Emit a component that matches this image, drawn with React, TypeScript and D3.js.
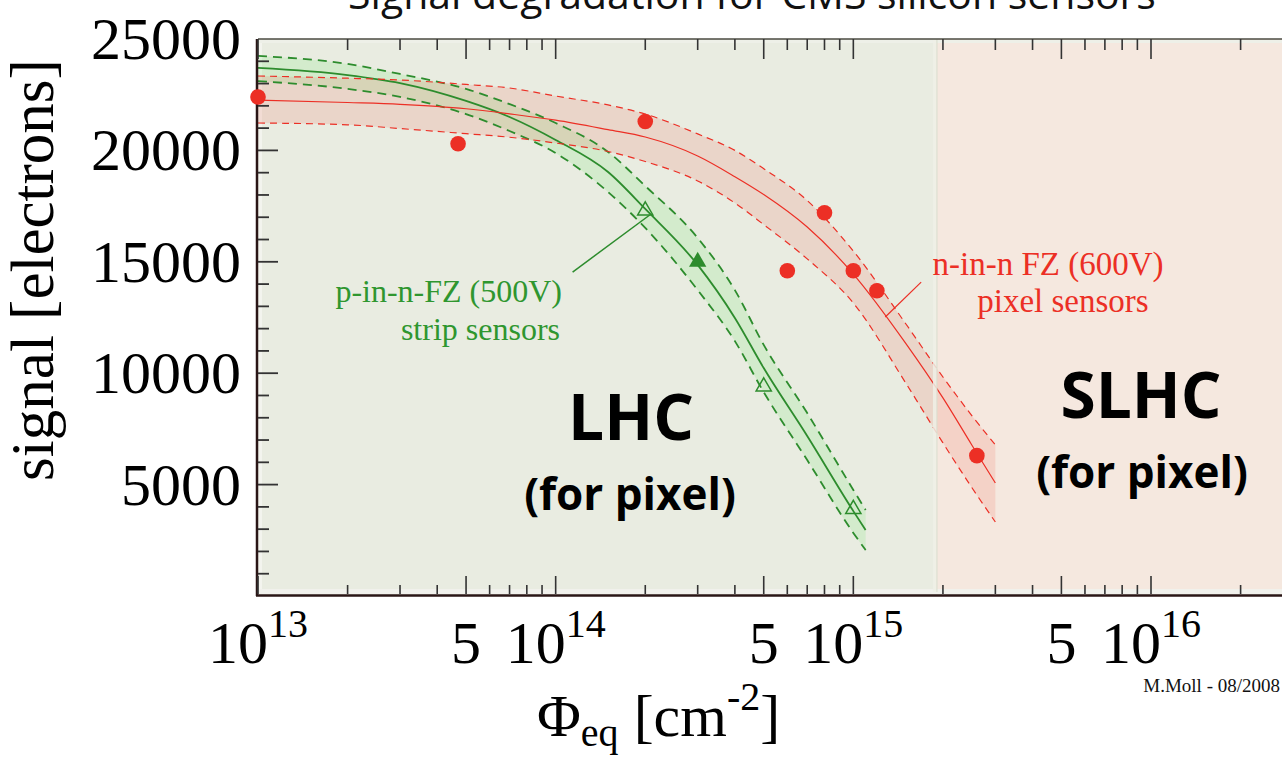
import React from "react";
import * as d3 from "d3";

// fluence in cm^-2, signal in electrons
const RED_FLUENCE = [1e13, 2e13, 3e13, 5e13, 7e13, 1e14, 1.5e14, 2e14, 3e14, 4e14, 5e14, 7e14, 1e15, 1.5e15, 2e15, 2.5e15, 3e15];
const RED_MID = [22260, 22150, 22070, 21870, 21640, 21360, 20930, 20600, 19750, 18820, 18020, 16560, 14450, 11340, 8890, 6780, 5070];
const RED_HIGH = [23340, 23240, 23160, 22960, 22800, 22440, 22040, 21630, 20740, 20000, 19180, 17750, 15480, 12220, 9830, 8100, 6780];
const RED_LOW = [21230, 21150, 20980, 20750, 20590, 20330, 19950, 19500, 18630, 17640, 16670, 15130, 13150, 9560, 6870, 4870, 3320];

const GREEN_FLUENCE = [1e13, 2e13, 3e13, 5e13, 7e13, 1e14, 1.5e14, 2e14, 3e14, 4e14, 5e14, 7e14, 1e15, 1.1e15];
const GREEN_MID = [23700, 23380, 23020, 22220, 21500, 20470, 19030, 17370, 14860, 12480, 10230, 7180, 3810, 2960];
const GREEN_HIGH = [24240, 23880, 23430, 22760, 22080, 21230, 19930, 18400, 16070, 13730, 11270, 8210, 4760, 3860];
const GREEN_LOW = [23110, 22760, 22400, 21630, 20870, 19880, 18130, 16520, 13730, 11440, 9150, 6100, 2830, 2060];

// n-in-n FZ pixel sensors (measured)
const PIXEL_FLUENCE = [1e13, 4.7e13, 2e14, 6e14, 8e14, 1e15, 1.2e15, 2.6e15];
const PIXEL_SIGNAL = [22400, 20300, 21300, 14600, 17200, 14600, 13700, 6300];

// p-in-n FZ strip sensors (measured)
const STRIP_FLUENCE = [2e14, 5e14, 1e15];
const STRIP_SIGNAL = [17300, 9400, 3900];
const STRIP_FILLED_FLUENCE = [3e14];
const STRIP_FILLED_SIGNAL = [15000];

const Y_LABELS = [5000, 10000, 15000, 20000, 25000];
const SLHC_START = 1.88e15;

const W = 1282;
const H = 759;
const RED = "#ec2f25";
const GREEN = "#2d8c2d";
const SERIF = "'Liberation Serif', 'Times New Roman', serif";
const SANS = "'Open Sans', Lato, sans-serif";

export default function App() {
  const x = d3.scaleLog().domain([1e13, 1e16]).range([258, 1151]);
  const y = d3.scaleLinear().domain([0, 25000]).range([596, 39]);

  const left = x(1e13);
  const top = y(25000);
  const bottom = y(0);
  const split = x(SLHC_START);

  const band = (fl, lo, hi) =>
    d3
      .area<number>()
      .x((_, i) => x(fl[i]))
      .y0((_, i) => y(lo[i]))
      .y1((_, i) => y(hi[i]))
      .curve(d3.curveMonotoneX)(fl);

  const curve = (fl, vals) =>
    d3
      .line<number>()
      .x((_, i) => x(fl[i]))
      .y((_, i) => y(vals[i]))
      .curve(d3.curveMonotoneX)(fl);

  const xTicks = d3
    .scaleLog()
    .domain([1e13, 3e16])
    .ticks()
    .filter(t => x(t) <= W);
  const mant = t => Math.round(t / Math.pow(10, Math.floor(Math.log10(t) + 1e-9)));

  const triangle = d3.symbol().type(d3.symbolTriangle);

  return (
    <div style={{ position: "absolute", left: 0, top: 0 }}>
      <svg width={W} height={H} style={{ display: "block", background: "#fff" }}>
        {/* title, cut at the top like the original slide */}
        <text x={752} y={9} textAnchor="middle" fontFamily={SANS} fontSize={41} fill="#111">
          Signal degradation for CMS silicon sensors
        </text>

        {/* LHC / SLHC regions */}
        <rect x={left} y={top} width={split - left} height={bottom - top} fill="#e9ece1" />
        <rect x={split} y={top} width={W - split} height={bottom - top} fill="#f5e8df" />
        <rect x={left} y={top} width={4} height={bottom - top} fill="#f3f4ee" />
        <rect x={left} y={top + 1} width={W - left} height={3} fill="#eef0e8" />
        <rect x={left} y={bottom - 7} width={W - left} height={6} fill="#f1f1ec" />

        {/* bands */}
        <path d={band(GREEN_FLUENCE, GREEN_LOW, GREEN_HIGH)} fill="rgba(60,230,60,0.12)" />
        <path d={band(RED_FLUENCE, RED_LOW, RED_HIGH)} fill="rgba(240,80,60,0.14)" />

        <path d={curve(GREEN_FLUENCE, GREEN_HIGH)} fill="none" stroke={GREEN} strokeWidth={1.8} strokeDasharray="9,6" />
        <path d={curve(GREEN_FLUENCE, GREEN_LOW)} fill="none" stroke={GREEN} strokeWidth={1.8} strokeDasharray="9,6" />
        <path d={curve(GREEN_FLUENCE, GREEN_MID)} fill="none" stroke={GREEN} strokeWidth={1.8} />

        <path d={curve(RED_FLUENCE, RED_HIGH)} fill="none" stroke={RED} strokeWidth={1.2} strokeDasharray="7,5" />
        <path d={curve(RED_FLUENCE, RED_LOW)} fill="none" stroke={RED} strokeWidth={1.2} strokeDasharray="7,5" />
        <path d={curve(RED_FLUENCE, RED_MID)} fill="none" stroke={RED} strokeWidth={1.2} />

        {/* region boundary */}
        <rect x={split - 2} y={top} width={4} height={bottom - top - 4} fill="#eef0e6" opacity={0.85} />
        <line x1={split + 2} x2={split + 2} y1={top} y2={bottom - 4} stroke="#d9ddce" strokeWidth={1} />

        {/* axes frame */}
        <line x1={left} x2={W} y1={top} y2={top} stroke="#4b4b42" strokeWidth={1.5} />
        <line x1={left - 1} x2={left - 1} y1={top} y2={bottom} stroke="#2a1616" strokeWidth={2.5} />
        <line x1={left - 2} x2={W} y1={bottom - 0.5} y2={bottom - 0.5} stroke="#2a1616" strokeWidth={2.5} />

        {/* x ticks, bottom and top */}
        {xTicks.map(t => {
          const m = mant(t);
          const len = m === 1 || m === 5 ? 18 : 9;
          return (
            <g key={t} stroke="#333" strokeWidth={1.6}>
              <line x1={x(t)} x2={x(t)} y1={bottom - 2} y2={bottom - 2 - len} />
              <line x1={x(t)} x2={x(t)} y1={top} y2={top + len + 2} />
            </g>
          );
        })}

        {/* y ticks */}
        {d3.range(1000, 25000, 1000).map(v => (
          <line
            key={v}
            x1={left}
            x2={left + (v % 5000 === 0 ? 20 : 11)}
            y1={y(v)}
            y2={y(v)}
            stroke="#333"
            strokeWidth={1.8}
          />
        ))}

        {/* x tick labels */}
        {xTicks
          .filter(t => mant(t) === 1 || mant(t) === 5)
          .map(t => {
            const e = Math.round(Math.log10(t));
            return mant(t) === 5 ? (
              <text key={t} x={x(t)} y={663} textAnchor="middle" fontFamily={SERIF} fontSize={60} fill="#000">
                5
              </text>
            ) : (
              <text key={t} x={x(t)} y={663} textAnchor="middle" fontFamily={SERIF} fontSize={60} fill="#000">
                10
                <tspan fontSize={40} dy={-26}>
                  {e}
                </tspan>
              </text>
            );
          })}

        {/* y tick labels */}
        {Y_LABELS.map(v => (
          <text key={v} x={241} y={y(v) + 20} textAnchor="end" fontFamily={SERIF} fontSize={60} fill="#000">
            {v}
          </text>
        ))}

        {/* axis titles */}
        <text x={537} y={736} fontFamily={SERIF} fontSize={60} fill="#000">
          Φ
          <tspan fontSize={40} dy={10}>eq</tspan>
          <tspan dy={-10}> [cm</tspan>
          <tspan fontSize={40} dy={-26}>-2</tspan>
          <tspan dy={26}>]</tspan>
        </text>
        <text
          transform={`translate(53, 270) rotate(-90)`}
          textAnchor="middle"
          fontFamily={SERIF}
          fontSize={61}
          fill="#000"
        >
          signal [electrons]
        </text>
        <text x={1280} y={692} textAnchor="end" fontFamily={SERIF} fontSize={19} fill="#111">
          M.Moll - 08/2008
        </text>

        {/* data points */}
        {PIXEL_FLUENCE.map((f, i) => (
          <circle key={f} cx={x(f)} cy={y(PIXEL_SIGNAL[i])} r={7.8} fill={RED} />
        ))}
        {STRIP_FLUENCE.map((f, i) => (
          <path
            key={f}
            d={triangle.size(100)()}
            transform={`translate(${x(f)},${y(STRIP_SIGNAL[i])})`}
            fill="none"
            stroke={GREEN}
            strokeWidth={1.5}
          />
        ))}
        {STRIP_FILLED_FLUENCE.map((f, i) => (
          <path
            key={f}
            d={triangle.size(130)()}
            transform={`translate(${x(f)},${y(STRIP_FILLED_SIGNAL[i])})`}
            fill={GREEN}
          />
        ))}

        {/* annotations */}
        <line x1={x(1.14e14)} y1={y(14540)} x2={x(2.07e14)} y2={y(17100)} stroke={GREEN} strokeWidth={1.5} />
        <text x={562} y={302} textAnchor="end" fontFamily={SERIF} fontSize={32} fill="#2f962f">
          p-in-n-FZ (500V)
        </text>
        <text x={560} y={340} textAnchor="end" fontFamily={SERIF} fontSize={32} fill="#2f962f">
          strip sensors
        </text>

        <line x1={x(1.69e15)} y1={y(14090)} x2={x(1.28e15)} y2={y(12520)} stroke={RED} strokeWidth={1.2} />
        <text x={1048} y={275} textAnchor="middle" fontFamily={SERIF} fontSize={33} fill={RED}>
          n-in-n FZ (600V)
        </text>
        <text x={1063} y={312} textAnchor="middle" fontFamily={SERIF} fontSize={33} fill={RED}>
          pixel sensors
        </text>

        <text x={631} y={440} textAnchor="middle" fontFamily={SANS} fontWeight="bold" fontSize={64} fill="#000">
          LHC
        </text>
        <text x={630} y={510} textAnchor="middle" fontFamily={SANS} fontWeight="bold" fontSize={44} fill="#000">
          (for pixel)
        </text>
        <text x={1141} y={418} textAnchor="middle" fontFamily={SANS} fontWeight="bold" fontSize={64} fill="#000">
          SLHC
        </text>
        <text x={1142} y={488} textAnchor="middle" fontFamily={SANS} fontWeight="bold" fontSize={44} fill="#000">
          (for pixel)
        </text>
      </svg>
    </div>
  );
}
